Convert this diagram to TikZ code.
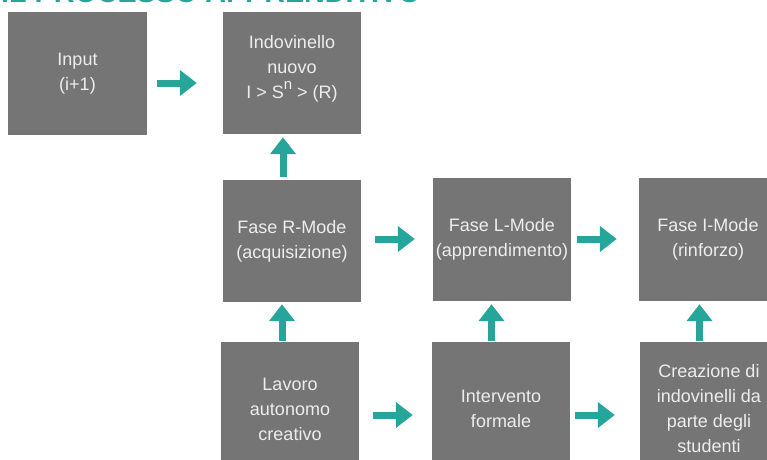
\documentclass[tikz,border=0pt]{standalone}
\usepackage{fontspec}
\setmainfont{Liberation Sans}
\usetikzlibrary{arrows.meta}

\definecolor{boxgray}{HTML}{757575}
\definecolor{teal}{HTML}{26A69A}

\tikzset{
    box/.style={fill=boxgray, text=white!93!black, minimum width=138pt, minimum height=122pt,
        inner sep=0pt, align=center, font=\fontsize{18}{25}\selectfont},
    bigarrow/.style={teal, line width=7pt, -{Triangle[length=17pt, width=25pt]}}
}

\begin{document}
\begin{tikzpicture}[x=1pt, y=-1pt]
    \useasboundingbox (0, 0) rectangle (767, 459);
    \clip (0, 0) rectangle (767, 459);

    % Title (cut off at the top)
    \node[teal, anchor=base west, inner sep=0pt, font=\fontsize{28.7}{30}\selectfont\bfseries] (title) at (1, 2.5) {IL PROCESSO APPRENDITIVO};

    % Top row
    \node[box, minimum width=139pt, minimum height=123pt] (input) at (77.5, 73.5) {Input\\(i+1)};
    \node[box, text depth=13pt] (indov) at (292, 73) {Indovinello\\nuovo\\I > S\raisebox{0.5em}{\fontsize{15}{15}\selectfont n} > (R)};

    % Middle row: the three phases
    \node[box] (rmode) at (292, 241) {Fase R-Mode\\(acquisizione)};
    \node[box, minimum height=123pt] (lmode) at (502, 239.5) {Fase L-Mode\\(apprendimento)};
    \node[box, minimum height=123pt] (imode) at (708, 239.5) {Fase I-Mode\\(rinforzo)};

    % Bottom row
    \node[box, minimum height=134pt] (lavoro) at (290, 409) {Lavoro\\autonomo\\creativo};
    \node[box, minimum height=134pt] (interv) at (501, 409) {Intervento\\formale};
    \node[box, minimum height=134pt] (creaz) at (709, 409) {Creazione di\\indovinelli da\\parte degli\\studenti};

    % Arrows
    \draw[bigarrow] ([xshift=10pt, yshift=-9.5pt]input.east) -- ([xshift=-26pt, yshift=-10pt]indov.west);
    \draw[bigarrow] ([xshift=-9pt, yshift=3pt]rmode.north) -- ([xshift=-9pt, yshift=-3pt]indov.south);
    \draw[bigarrow] ([xshift=14pt, yshift=2pt]rmode.east) -- ([xshift=-18pt, yshift=0.5pt]lmode.west);
    \draw[bigarrow] ([xshift=6pt, yshift=0.5pt]lmode.east) -- ([xshift=-22pt, yshift=0.5pt]imode.west);

    \draw[bigarrow] ([xshift=-8pt, yshift=1pt]lavoro.north) -- ([xshift=-10pt, yshift=-2pt]rmode.south);
    \draw[bigarrow] ([xshift=-9.5pt, yshift=1pt]interv.north) -- ([xshift=-10.5pt, yshift=-3pt]lmode.south);
    \draw[bigarrow] ([xshift=-9.5pt, yshift=1pt]creaz.north) -- ([xshift=-8.5pt, yshift=-3pt]imode.south);

    \draw[bigarrow] ([xshift=14pt, yshift=-6pt]lavoro.east) -- ([xshift=-19pt, yshift=-6pt]interv.west);
    \draw[bigarrow] ([xshift=5pt, yshift=-6pt]interv.east) -- ([xshift=-25pt, yshift=-6pt]creaz.west);
\end{tikzpicture}
\end{document}
